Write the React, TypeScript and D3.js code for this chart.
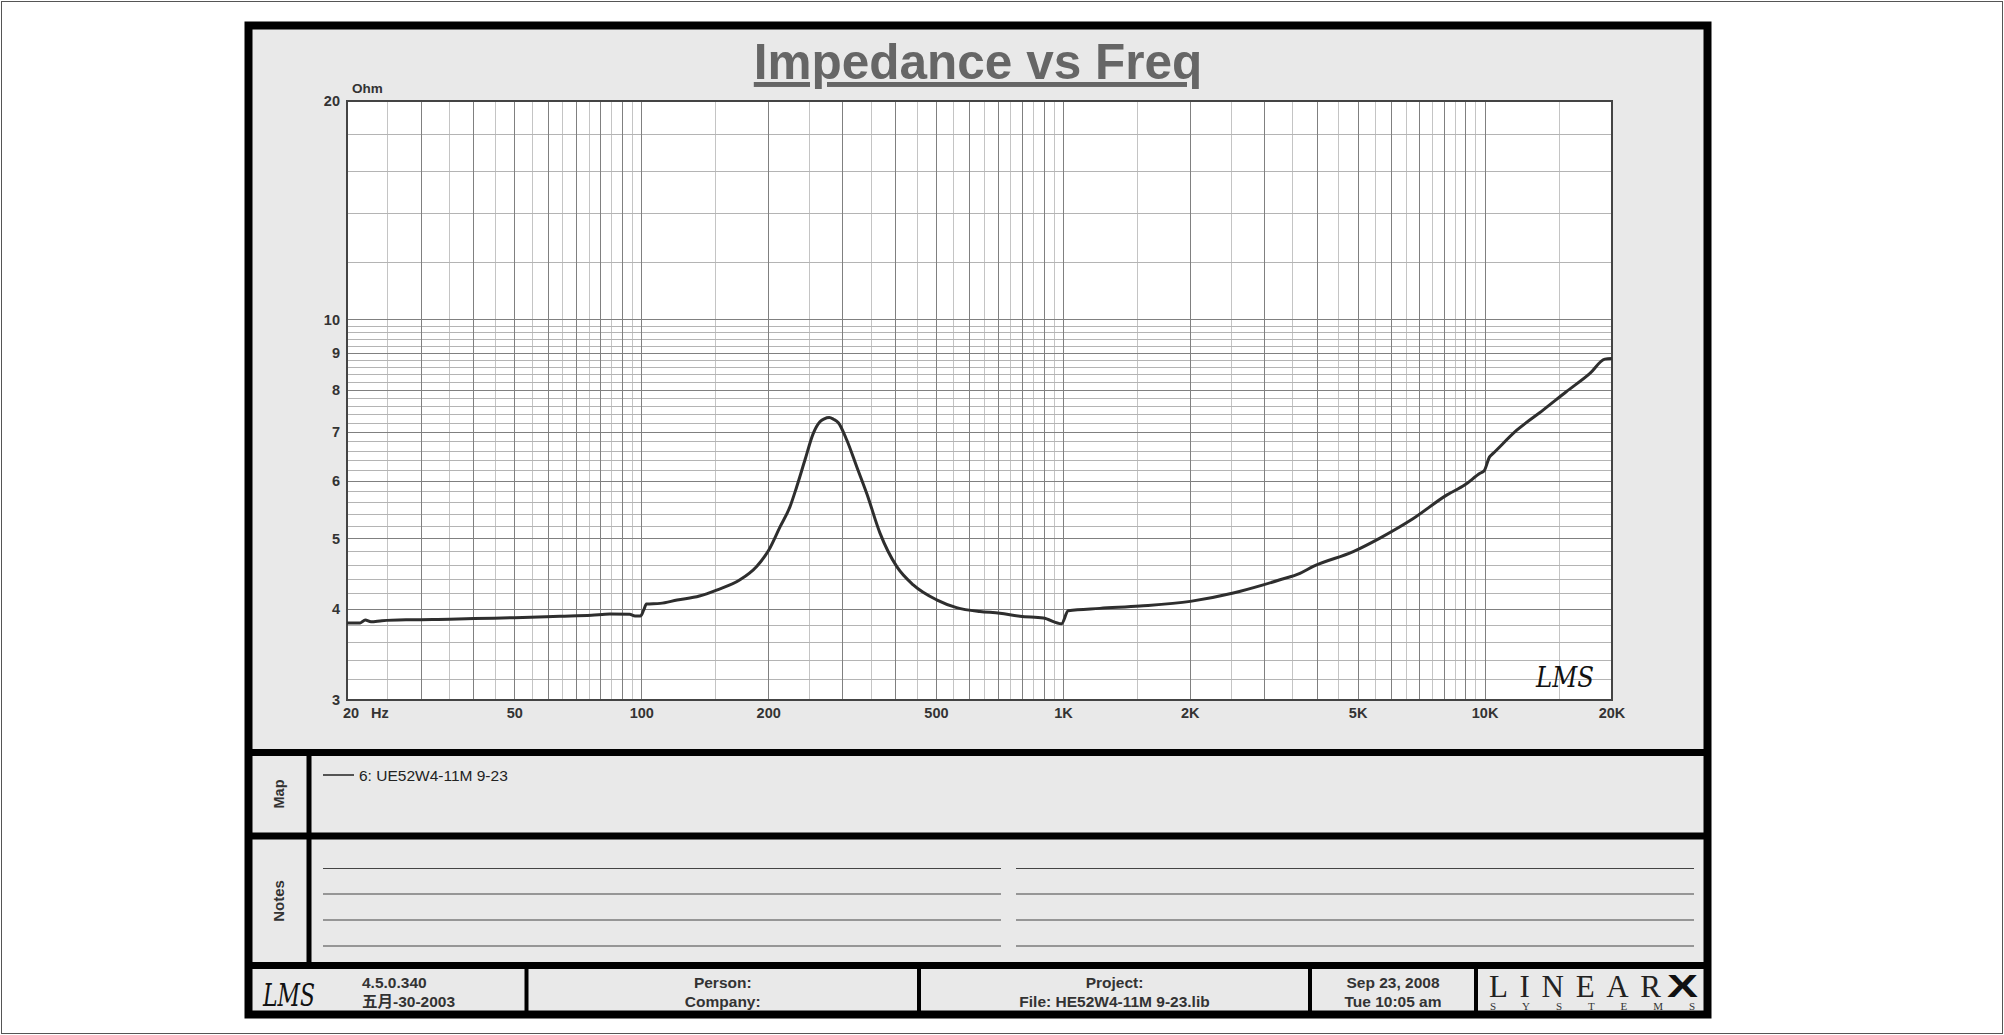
import React from "react";
import * as d3 from "d3";

// ---- data ----
const freqHz = [20, 21.5, 22.1, 22.8, 24.2, 28.6, 35, 40, 50, 64, 76, 84, 93.6, 96.4, 99.4, 101.1, 102.6, 110.6, 121.3, 137, 150.5, 171, 187.3, 200, 212.8, 224.6, 233, 243.9, 255.2, 264.6, 271, 278.5, 285, 292.6, 306.2, 323.5, 341.7, 367.3, 402.3, 440.5, 500.4, 558, 633.9, 707, 788.6, 895.6, 990, 1026.5, 1220, 1519, 2000, 2529, 2978, 3264, 3639, 3913, 4868, 5633, 6757, 8106, 8961, 9725, 9950, 10250, 10450, 11890, 13750, 15600, 17730, 19230, 20000];
const ohms = [3.83, 3.83, 3.865, 3.844, 3.857, 3.869, 3.875, 3.882, 3.894, 3.911, 3.923, 3.939, 3.935, 3.915, 3.915, 3.99, 4.066, 4.074, 4.118, 4.17, 4.25, 4.39, 4.58, 4.82, 5.19, 5.53, 5.89, 6.42, 6.98, 7.24, 7.31, 7.34, 7.3, 7.22, 6.84, 6.28, 5.77, 5.09, 4.58, 4.32, 4.12, 4.02, 3.97, 3.95, 3.91, 3.89, 3.82, 3.98, 4.01, 4.04, 4.1, 4.21, 4.32, 4.39, 4.48, 4.58, 4.8, 5.01, 5.33, 5.74, 5.93, 6.15, 6.2, 6.48, 6.55, 7.05, 7.52, 7.97, 8.44, 8.83, 8.85];

const xTickValues = [20, 50, 100, 200, 500, 1000, 2000, 5000, 10000, 20000];
const xTickLabels = ["20", "50", "100", "200", "500", "1K", "2K", "5K", "10K", "20K"];
const yTickValues = [3, 4, 5, 6, 7, 8, 9, 10, 20];
const yTickLabels = ["3", "4", "5", "6", "7", "8", "9", "10", "20"];
const yUpperGrid = [12, 14, 16, 18];

const seriesName = "6: UE52W4-11M 9-23";
const title = "Impedance vs Freq";
const footerVersion = ["4.5.0.340", "五月-30-2003"];
const footerPerson = ["Person:", "Company:"];
const footerProject = ["Project:", "File: HE52W4-11M 9-23.lib"];
const footerDate = ["Sep 23, 2008", "Tue 10:05 am"];

// ---- layout ----
const W = 2004, H = 1035;
const PL = 347, PR = 1612, PT = 101, PB = 700;
const sans = "'Liberation Sans', Arial, 'Noto Sans CJK SC', sans-serif";

export default function App() {
  const x = d3.scaleLog().domain([20, 20000]).range([PL, PR]);
  const y = d3.scaleLog().domain([3, 20]).range([PB, PT]);

  // grid: per decade, darker lines at integer multiples, lighter at halves
  const xDark: number[] = [];
  const xLight: number[] = [];
  [10, 100, 1000, 10000].forEach((dec) => {
    for (let m = 1; m <= 10; m += 0.5) {
      const f = m * dec;
      if (f <= 20 || f >= 20000) continue;
      if (Number.isInteger(m)) xDark.push(f);
      else xLight.push(f);
    }
  });
  const yDark = [4, 5, 6, 7, 8, 9, 10];
  const yLight: number[] = [];
  for (let i = 16; i < 50; i++) {
    const v = i / 5;
    if (i % 5 !== 0) yLight.push(v);
  }

  const pts = freqHz.map((f, i) => [f, ohms[i]] as [number, number]);
  const line = d3
    .line<[number, number]>()
    .x((d) => x(d[0]))
    .y((d) => y(d[1]))
    .curve(d3.curveMonotoneX);

  const fcx = [(252 + 526.5) / 2, (526.5 + 919) / 2, (919 + 1310) / 2, (1310 + 1476) / 2];

  return (
    <svg
      width={W}
      height={H}
      style={{ position: "absolute", left: 0, top: 0, background: "#fff" }}
      xmlns="http://www.w3.org/2000/svg"
    >
      {/* page frame */}
      <rect x={1.5} y={1.5} width={W - 3} height={H - 3} fill="none" stroke="#555" strokeWidth={1} />

      {/* main panel */}
      <rect x={248.5} y={25.5} width={1459} height={989} fill="#e9e9e9" stroke="#000" strokeWidth={8} />

      {/* title */}
      <text
        x={978}
        y={79}
        textAnchor="middle"
        fontFamily={sans}
        fontWeight="bold"
        fontSize={49.5}
        fill="#666"
        textDecoration="underline"
      >
        {title}
      </text>

      {/* plot area */}
      <rect x={PL} y={PT} width={PR - PL} height={PB - PT} fill="#fff" />
      <g shapeRendering="crispEdges">
        {xLight.map((f) => (
          <line key={"xl" + f} x1={x(f)} x2={x(f)} y1={PT} y2={PB} stroke="#c4c4c4" strokeWidth={1} />
        ))}
        {yLight.map((v) => (
          <line key={"yl" + v} x1={PL} x2={PR} y1={y(v)} y2={y(v)} stroke="#b4b4b4" strokeWidth={1} />
        ))}
        {yUpperGrid.map((v) => (
          <line key={"yu" + v} x1={PL} x2={PR} y1={y(v)} y2={y(v)} stroke="#b4b4b4" strokeWidth={1} />
        ))}
        {xDark.map((f) => (
          <line key={"xd" + f} x1={x(f)} x2={x(f)} y1={PT} y2={PB} stroke="#808080" strokeWidth={1} />
        ))}
        {yDark.map((v) => (
          <line key={"yd" + v} x1={PL} x2={PR} y1={y(v)} y2={y(v)} stroke="#808080" strokeWidth={1} />
        ))}
        <rect x={PL} y={PT} width={PR - PL} height={PB - PT} fill="none" stroke="#444" strokeWidth={1.5} />
      </g>

      {/* curve */}
      <path d={line(pts) || ""} fill="none" stroke="#2e2e2e" strokeWidth={3} strokeLinejoin="round" />

      {/* in-plot LMS mark */}
      <text
        x={1536}
        y={687}
        fontFamily="'DejaVu Serif', serif"
        fontStyle="italic"
        fontSize={27}
        fill="#111"
        textLength={58}
        lengthAdjust="spacingAndGlyphs"
      >
        LMS
      </text>

      {/* y ticks */}
      {yTickValues.map((v, i) => (
        <text
          key={"yt" + v}
          x={340}
          y={y(v) + 5}
          textAnchor="end"
          fontFamily={sans}
          fontWeight="bold"
          fontSize={14.5}
          fill="#333"
        >
          {yTickLabels[i]}
        </text>
      ))}
      <text x={352} y={93} fontFamily={sans} fontWeight="bold" fontSize={13.5} fill="#333">
        Ohm
      </text>

      {/* x ticks */}
      {xTickValues.map((f, i) => (
        <text
          key={"xt" + f}
          x={x(f) + (i === 0 ? 4 : 0)}
          y={718}
          textAnchor="middle"
          fontFamily={sans}
          fontWeight="bold"
          fontSize={14.5}
          fill="#333"
        >
          {xTickLabels[i]}
        </text>
      ))}
      <text x={371} y={718} fontFamily={sans} fontWeight="bold" fontSize={14.5} fill="#333">
        Hz
      </text>

      {/* section dividers */}
      <line x1={245} x2={1711} y1={752.5} y2={752.5} stroke="#000" strokeWidth={7} />
      <line x1={245} x2={1711} y1={836} y2={836} stroke="#000" strokeWidth={7} />
      <line x1={245} x2={1711} y1={965.5} y2={965.5} stroke="#000" strokeWidth={7} />
      <line x1={309} x2={309} y1={752} y2={966} stroke="#000" strokeWidth={5} />

      {/* Map */}
      <text
        transform="translate(284,794) rotate(-90)"
        textAnchor="middle"
        fontFamily={sans}
        fontWeight="bold"
        fontSize={14.5}
        fill="#333"
      >
        Map
      </text>
      <line x1={323} x2={354} y1={775} y2={775} stroke="#222" strokeWidth={1.5} />
      <text x={359} y={780.5} fontFamily={sans} fontSize={15.5} fill="#222">
        {seriesName}
      </text>

      {/* Notes */}
      <text
        transform="translate(284,901) rotate(-90)"
        textAnchor="middle"
        fontFamily={sans}
        fontWeight="bold"
        fontSize={15}
        fill="#333"
      >
        Notes
      </text>
      {[868.5, 894, 920, 946].map((yy) => (
        <g key={"n" + yy}>
          <line x1={323} x2={1001} y1={yy} y2={yy} stroke="#444" strokeWidth={1.2} />
          <line x1={1016} x2={1694} y1={yy} y2={yy} stroke="#444" strokeWidth={1.2} />
        </g>
      ))}

      {/* footer */}
      {[526.5, 919, 1310, 1476].map((xx) => (
        <line key={"fd" + xx} x1={xx} x2={xx} y1={966} y2={1014} stroke="#000" strokeWidth={4} />
      ))}
      <text
        x={263}
        y={1006}
        fontFamily="'DejaVu Serif', serif"
        fontStyle="italic"
        fontSize={32}
        fill="#111"
        textLength={52}
        lengthAdjust="spacingAndGlyphs"
      >
        LMS
      </text>
      <text x={362} y={988} fontFamily={sans} fontWeight="bold" fontSize={15.5} fill="#333">
        {footerVersion[0]}
      </text>
      <text x={362} y={1006.5} fontFamily={sans} fontWeight="bold" fontSize={15.5} fill="#333">
        {footerVersion[1]}
      </text>
      {[footerPerson, footerProject, footerDate].map((pair, i) => (
        <g key={"fc" + i}>
          <text x={fcx[i + 1]} y={988} textAnchor="middle" fontFamily={sans} fontWeight="bold" fontSize={15.5} fill="#333">
            {pair[0]}
          </text>
          <text x={fcx[i + 1]} y={1006.5} textAnchor="middle" fontFamily={sans} fontWeight="bold" fontSize={15.5} fill="#333">
            {pair[1]}
          </text>
        </g>
      ))}
      {/* LinearX logo */}
      <text x={1489} y={997} fontFamily="'Liberation Serif', serif" fontSize={31} fill="#222" textLength={172} lengthAdjust="spacing">
        LINEAR
      </text>
      <text x={1667} y={997} fontFamily={sans} fontWeight={900} fontSize={31} fill="#111" textLength={31} lengthAdjust="spacingAndGlyphs">
        X
      </text>
      <text x={1490} y={1010} fontFamily="'Liberation Serif', serif" fontSize={11} fill="#333" textLength={205} lengthAdjust="spacing">
        SYSTEMS
      </text>
    </svg>
  );
}
